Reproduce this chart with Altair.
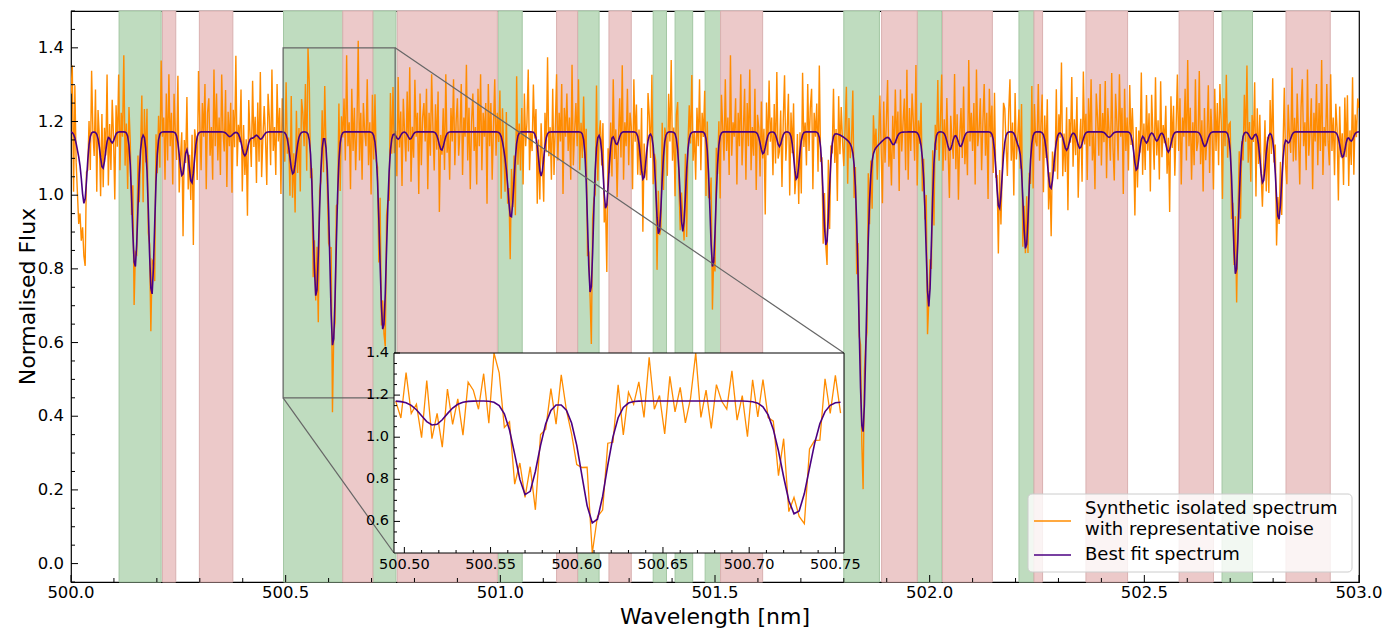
import altair as alt
import numpy as np
import pandas as pd

# ---------------- layout ----------------
W, H = 1288, 571
X0, X1 = 500.0, 503.0
Y0, Y1 = -0.05, 1.5
IX0, IX1 = 500.494, 500.755      # inset / zoom window (data)
IY0, IY1 = 0.45, 1.40
IPX = [323, 773]                 # inset x range in plot pixels
IPY = [542, 342]                 # inset y range in plot pixels
LEG_BOX = [957, 1281, 483, 561]  # legend box in plot pixels (x0, x1, y0, y1)

# ---------------- data ----------------
continuum = 1.172
line_center = [500.018, 500.031, 500.074, 500.096, 500.149, 500.188, 500.259, 500.281, 500.370, 500.405,
               500.424, 500.442, 500.517, 500.571, 500.610, 500.727, 500.762, 500.790, 500.863, 501.012,
               501.025, 501.095, 501.210, 501.246, 501.271, 501.333, 501.369, 501.425, 501.495, 501.612,
               501.650, 501.690, 501.759, 501.844, 501.850, 501.916, 501.985, 501.998, 502.047, 502.072,
               502.162, 502.206, 502.224, 502.282, 502.319, 502.350, 502.418, 502.482, 502.505, 502.529,
               502.556, 502.641, 502.713, 502.750, 502.776, 502.813, 502.836, 502.962, 502.982]
line_depth = [0.05, 0.19, 0.10, 0.03, 0.37, 0.445, 0.12, 0.14, 0.013, 0.065,
              0.015, 0.02, 0.115, 0.45, 0.585, 0.54, 0.02, 0.02, 0.05, 0.05,
              0.23, 0.12, 0.44, 0.21, 0.035, 0.13, 0.28, 0.27, 0.37, 0.06,
              0.04, 0.13, 0.31, 0.76, 0.06, 0.03, 0.04, 0.47, 0.05, 0.04,
              0.21, 0.03, 0.32, 0.155, 0.05, 0.045, 0.015, 0.105, 0.03, 0.025,
              0.055, 0.04, 0.39, 0.02, 0.14, 0.24, 0.03, 0.07, 0.025]
line_sigma = [0.006, 0.006, 0.006, 0.005, 0.0065, 0.0065, 0.006, 0.006, 0.006, 0.007,
              0.005, 0.006, 0.007, 0.0065, 0.007, 0.0078, 0.005, 0.005, 0.006, 0.006,
              0.0065, 0.006, 0.0065, 0.006, 0.005, 0.006, 0.0065, 0.0065, 0.0065, 0.006,
              0.005, 0.006, 0.0065, 0.0085, 0.03, 0.006, 0.006, 0.0065, 0.006, 0.006,
              0.0065, 0.005, 0.0065, 0.007, 0.006, 0.006, 0.006, 0.006, 0.005, 0.005,
              0.006, 0.006, 0.0065, 0.005, 0.006, 0.0065, 0.005, 0.006, 0.005]

# residual noise of the synthetic spectrum, one per 0.003 nm pixel, in units of NOISE_UNIT
NOISE_UNIT = 0.013
noise_units = [
    8, 14, -12, 11, -4, -9, -14, -10, -13, -7, -11, -14, 2, -2, 5, -7, 13, 0, -5, 9, -12, 6, 2, -8, 11,
    -4, 7, -1, 14, -10, 3, -6, 9, 1, -13, 6, -3, 12, -8, 4, -1, 16, -7, 2, -11, 8, 5, -4, 10, -9,
    3, -2, 11, -6, 0, 9, -14, 6, -3, 13, -5, 2, -9, 7, 1, -12, 10, -4, 5, -7, 15, -1, 3, -10, 8,
    -6, 12, -3, 4, -11, 8, 0, -5, 14, -8, 2, 9, -13, 5, -2, 11, -7, 3, -4, 10, -15, 6, 1, -9, 13,
    2, -8, 6, -1, 10, -12, 4, 7, -5, 1, -10, 13, -3, 8, -6, 3, -9, 12, 0, -4, 9, -11, 5, -2, 7,
    -12, 5, -3, 16, -7, 2, -1, 11, -9, 6, -4, 3, -14, 9, 1, -6, 12, -2, 4, -10, 7, -5, 14, -8, 0,
    6, -1, -11, 8, 3, -7, 13, -4, 1, -9, 10, -2, 5, -13, 7, 0, -6, 11, -3, 2, -8, 15, -5, 4, -10,
    9, -6, 2, -12, 7, 4, -3, 10, -8, 18, 12, -5, 3, -11, 6, -1, 9, -14, 4, -2, 8, -7, 11, 0, -4,
    -7, 3, 14, -14, 1, -5, 8, -2, 12, -10, 4, -1, 7, -6, 16, -3, 2, -12, 9, -4, 5, -8, 1, 19, -6,
    4, -10, 6, 0, -3, 11, -7, 2, -13, 8, -5, 10, -1, 3, -9, 14, -4, 6, -2, -11, 7, 1, -6, 12, -3,
    10, -4, 1, -8, 13, -2, 5, -11, 7, 0, -6, 9, -3, 15, -9, 2, -5, 11, -1, 4, -13, 8, -7, 3, 6,
    -2, 9, -12, 4, -5, 12, 1, -8, 6, -3, 10, -14, 3, -1, 8, -6, 13, -4, 0, -10, 5, -2, 11, -7, 2,
    7, -5, 0, 10, -9, 3, -1, 14, -6, 5, -12, 2, 8, -4, 1, -11, 9, -3, 12, -8, 4, -1, 6, -15, 10,
    -3, 6, -10, 1, 11, -5, 4, -2, 9, -13, 7, 0, -7, 12, -4, 3, -9, 10, -1, 5, -12, 14, -6, 2, -8,
    5, -11, 8, -3, 2, 13, -8, 0, -4, 10, -1, 6, -12, 4, -6, 11, 2, -9, 7, -3, 16, -5, 1, -10, 9,
    -9, 1, 12, -6, 4, -2, 10, -13, 5, -1, 8, -4, 3, -10, 14, -7, 0, 6, -3, 11, -8, 2, -5, 9, -1,
    11, -7, 3, -1, -12, 7, 2, -5, 13, -9, 0, 4, -3, 10, -6, 1, -14, 8, -2, 5, -8, 12, -4, 3, -11,
    0, 8, -5, 14, -10, 2, -3, 9, -7, 4, 1, -12, 11, -2, 6, -8, 3, -4, 13, -11, 7, -1, -6, 10, 4,
    -5, 13, -8, 2, 6, -11, 9, -1, -4, 12, -7, 3, 0, -9, 8, -2, 15, -6, 1, -13, 5, 10, -3, -7, 6,
    3, -4, 9, -14, 1, 7, -2, 12, -6, 0, -10, 5, -3, 11, -8, 4, -1, 9, -12, 6, -5, 2, 14, -9, 1,
    -8, 10, -2, 5, -13, 8, 1, -6, 11, -4, 3, -9, 16, -5, 2, -1, 7, -11, 4, -3, 12, -7, 0, 9, -10,
    6, -3, 13, -8, 1, -5, 9, -12, 4, 2, -7, 10, -1, 5, -14, 8, -4, 11, -2, 3, -9, 6, -6, 14, -3,
    -1, 7, -10, 3, 12, -6, 0, 8, -13, 5, -2, 11, -5, 1, 9, -8, 4, -11, 13, -3, 2, -7, 10, -4, 5,
    9, -12, 4, -1, 6, -8, 15, -3, 2, -10, 7, 0, -5, 12, -9, 3, -2, 10, -6, 1, -14, 8, -4, 6, -1,
    -6, 2, 11, -9, 5, -3, 1, 13, -7, 4, -11, 6, -1, 9, -4, -12, 7, 2, -8, 14, -5, 3, -10, 8, 0,
    4, -7, 1, 10, -2, -13, 8, -5, 3, 12, -6, 0, -9, 6, -3, 11, -1, 5, -12, 9, -4, 2, 7, -8, 13,
    -10, 5, -4, 8, 2, -6, 14, -11, 3, -1, 9, -7, 4, -2, 12, -9, 1, 6, -5, 10, -13, 4, -3, 11, -6,
    2, 12, -8, 3, -5, 9, -1, -10, 7, 1, -4, 13, -7, 5, -12, 2, 8, -3, 11, -6, 0, -9, 15, -2, 4,
    -4, 6, -11, 13, -3, 0, 7, -8, 2, 10, -5, 4, -14, 9, -1, 6, -7, 12, -2, 3, -10, 8, -6, 1, 11,
    7, -2, -9, 4, 11, -6, 2, -13, 9, -4, 1, 8, -3, 14, -10, 5, -1, 10, -7, 3, -5, 12, -11, 6, -2,
    -3, 10, -6, 1, 8, -12, 5, -2, 13, -7, 3, -10, 6, 0, -4, 11, -9, 4, -1, 15, -8, 2, -5, 9, -13,
    5, -1, 12, -7, 3, -4, 9, -11, 1, 6, -8, 14, -2, 4, -10, 7, -3, 11, -6, 0, -12, 8, 3, -5, 10,
    -7, 4, -2, 11, -9, 6, 1, -5, 13, -3, -10, 8, 2, -6, 12, -1, 5, -13, 9, -4, 3, -8, 10, -2, 7,
    1, -11, 9, -4, 6, -1, 14, -8, 3, -6, 10, -2, 5, -12, 8, 0, -7, 13, -3, 4, -9, 11, -5, 2, -1,
    8, -5, 3, -13, 10, -2, 6, -9, 1, 12, -4, 7, -11, 3, -1, 9, -6, 15, -3, 5, -10, 2, -7, 11, -4,
    -2, 13, -6, 4, -10, 8, -3, 1, 11, -8, 5, -1, -12, 9, -4, 6, -7, 10, 2, -14, 7, -3, 12, -5, 3,
    6, -9, 2, -3, 12, -7, 4, 10, -11, 1, -5, 8, -2, 14, -6, 3, -9, 5, -1, 11, -13, 6, -4, 9, 0,
    -5, 3, 10, -8, 1, -12, 7, -4, 13, -2, 6, -10, 4, -1, 9, -7, 2, 12, -5, -9, 8, 1, -3, 14, -6,
    3, -6, 8, -1, -11, 5, 11, -3, 2, -8, 13, -5, 0, 7, -12, 4, -2, 10, -7, 6, -4, 15, -9, 1, -3,
    10, -2, -7, 12, -4, 3, -9, 6, 1, -13, 8, -1, 5, -6, 11, -3, 9, -10, 2, -5, 13, -8, 4, -1, 7,
    5,
]

green_start = [500.112, 500.495, 500.703, 500.995, 501.180, 501.356, 501.407, 501.477, 501.800, 501.971, 502.208, 502.681]
green_end = [500.210, 500.633, 500.757, 501.051, 501.230, 501.387, 501.448, 501.513, 501.883, 502.028, 502.243, 502.752]
red_start = [500.213, 500.299, 500.633, 500.760, 501.131, 501.253, 501.513, 501.888, 502.030, 502.243, 502.364, 502.581, 502.830]
red_end = [500.244, 500.377, 500.703, 500.993, 501.180, 501.305, 501.611, 501.971, 502.146, 502.263, 502.461, 502.661, 502.933]

x_major = [500.0, 500.5, 501.0, 501.5, 502.0, 502.5, 503.0]
x_minor = [round(500.0 + 0.1 * i, 1) for i in range(31) if i % 5 != 0]
y_major = [0.0, 0.2, 0.4, 0.6, 0.8, 1.0, 1.2, 1.4]
y_minor = [round(-0.05 + 0.05 * i, 2) for i in range(32) if i % 4 != 1]
ix_major = [500.50, 500.55, 500.60, 500.65, 500.70, 500.75]
ix_minor = [round(500.50 + 0.01 * i, 2) for i in range(26) if i % 5 != 0]
iy_major = [0.6, 0.8, 1.0, 1.2, 1.4]
iy_minor = [0.5, 0.55, 0.65, 0.7, 0.75, 0.85, 0.9, 0.95, 1.05, 1.1, 1.15, 1.25, 1.3, 1.35]

X_TITLE = "Wavelength [nm]"
Y_TITLE = "Normalised Flux"
LAB_OBS = "Synthetic isolated spectrum\nwith representative noise"
LAB_FIT = "Best fit spectrum"
ORANGE = "#ff8c00"
PURPLE = "#4b0082"

# legend rows (text lines and line swatches)
leg_text = ["Synthetic isolated spectrum", "with representative noise", "Best fit spectrum"]
leg_text_y = [498, 519, 544]
leg_swatch_color = [ORANGE, PURPLE]
leg_swatch_y = [510, 544]

# ---------------- build spectra ----------------
wl = np.round(500.0 + 0.003 * np.arange(len(noise_units)), 3)
model = np.full_like(wl, continuum)
for c, d, s in zip(line_center, line_depth, line_sigma):
    model = model - d * np.exp(-0.5 * ((wl - c) / s) ** 2)
obs = model + np.array(noise_units) * NOISE_UNIT

obs_df = pd.DataFrame({"wl": wl, "flux": np.round(obs, 4), "series": LAB_OBS})
fit_df = pd.DataFrame({"wl": wl, "flux": np.round(model, 4), "series": LAB_FIT})
sel = (wl >= IX0) & (wl <= IX1)
obs_in = obs_df[sel]
fit_in = fit_df[sel]

green_df = pd.DataFrame({"s": green_start, "e": green_end})
red_df = pd.DataFrame({"s": red_start, "e": red_end})


def px_to_x(px):
    return X0 + px / W * (X1 - X0)


def py_to_y(py):
    return Y1 - py / H * (Y1 - Y0)


box_df = pd.DataFrame({"x0": [IX0], "x1": [IX1], "y0": [IY0], "y1": [IY1]})
conn_df = pd.DataFrame({
    "xa": [IX1, IX0], "ya": [IY1, IY0],
    "xb": [px_to_x(IPX[1]), px_to_x(IPX[0])], "yb": [py_to_y(IPY[1]), py_to_y(IPY[0])],
})


def labels(vals, fmt):
    return pd.DataFrame({"v": vals, "t": [format(v, fmt) for v in vals]})


# ---------------- scales ----------------
xs = alt.Scale(domain=[X0, X1], nice=False, zero=False)
ys = alt.Scale(domain=[Y0, Y1], nice=False, zero=False)
ixs = alt.Scale(domain=[IX0, IX1], range=IPX, nice=False, zero=False)
iys = alt.Scale(domain=[IY0, IY1], range=IPY, nice=False, zero=False, clamp=True)
cscale = alt.Scale(domain=[LAB_OBS, LAB_FIT], range=[ORANGE, PURPLE])

# ---------------- main panel ----------------
green = alt.Chart(green_df).mark_rect(fill="#bfdcbf", stroke="#a3c7a3", strokeWidth=1).encode(
    x=alt.X("s:Q", scale=xs, axis=None), x2="e:Q", y=alt.value(0), y2=alt.value(H))
red = alt.Chart(red_df).mark_rect(fill="#ecc9c9", stroke="#d9b0b0", strokeWidth=1).encode(
    x=alt.X("s:Q", scale=xs, axis=None), x2="e:Q", y=alt.value(0), y2=alt.value(H))
orange = alt.Chart(obs_df).mark_line(strokeWidth=1.4, clip=True).encode(
    x=alt.X("wl:Q", scale=xs, axis=None),
    y=alt.Y("flux:Q", scale=ys, axis=None),
    color=alt.Color("series:N", scale=cscale, legend=None))
purple = alt.Chart(fit_df).mark_line(strokeWidth=1.6, clip=True).encode(
    x=alt.X("wl:Q", scale=xs, axis=None),
    y=alt.Y("flux:Q", scale=ys, axis=None),
    color=alt.Color("series:N", scale=cscale, legend=None))
zoom_box = alt.Chart(box_df).mark_rect(fillOpacity=0, stroke="#666666", strokeWidth=1.2).encode(
    x=alt.X("x0:Q", scale=xs, axis=None), x2="x1:Q",
    y=alt.Y("y0:Q", scale=ys, axis=None), y2="y1:Q")
connectors = alt.Chart(conn_df).mark_rule(color="#666666", strokeWidth=1.2).encode(
    x=alt.X("xa:Q", scale=xs, axis=None), x2="xb:Q",
    y=alt.Y("ya:Q", scale=ys, axis=None), y2="yb:Q")
xt_major = alt.Chart(pd.DataFrame({"v": x_major})).mark_rule(color="black").encode(
    x=alt.X("v:Q", scale=xs, axis=None), y=alt.value(H), y2=alt.value(H - 7))
xt_minor = alt.Chart(pd.DataFrame({"v": x_minor})).mark_rule(color="black").encode(
    x=alt.X("v:Q", scale=xs, axis=None), y=alt.value(H), y2=alt.value(H - 4))
yt_major = alt.Chart(pd.DataFrame({"v": y_major})).mark_rule(color="black").encode(
    y=alt.Y("v:Q", scale=ys, axis=None), x=alt.value(0), x2=alt.value(7))
yt_minor = alt.Chart(pd.DataFrame({"v": y_minor})).mark_rule(color="black").encode(
    y=alt.Y("v:Q", scale=ys, axis=None), x=alt.value(0), x2=alt.value(4))
x_labels = alt.Chart(labels(x_major, ".1f")).mark_text(fontSize=16.5, baseline="middle", color="black").encode(
    x=alt.X("v:Q", scale=xs, axis=None), y=alt.value(H + 11), text="t:N")
y_labels = alt.Chart(labels(y_major, ".1f")).mark_text(fontSize=16.5, align="right", baseline="middle",
                                                       color="black").encode(
    y=alt.Y("v:Q", scale=ys, axis=None), x=alt.value(-7), text="t:N")
x_title = alt.Chart(pd.DataFrame({"t": [X_TITLE]})).mark_text(fontSize=22, baseline="middle", color="black").encode(
    x=alt.value(W / 2), y=alt.value(H + 35), text="t:N")
y_title = alt.Chart(pd.DataFrame({"t": [Y_TITLE]})).mark_text(fontSize=22, baseline="middle", angle=270,
                                                              color="black").encode(
    x=alt.value(-43), y=alt.value(H / 2), text="t:N")

main = alt.layer(green, red, orange, purple, zoom_box, connectors, xt_major, xt_minor, yt_major, yt_minor,
                 x_labels, y_labels, x_title, y_title)

# ---------------- inset panel ----------------
inset_bg = alt.Chart(box_df).mark_rect(fill="white").encode(
    x=alt.X("x0:Q", scale=ixs, axis=None), x2="x1:Q",
    y=alt.Y("y0:Q", scale=iys, axis=None), y2="y1:Q")
inset_obs = alt.Chart(obs_in).mark_line(color=ORANGE, strokeWidth=1.3).encode(
    x=alt.X("wl:Q", scale=ixs, axis=None), y=alt.Y("flux:Q", scale=iys, axis=None))
inset_fit = alt.Chart(fit_in).mark_line(color=PURPLE, strokeWidth=1.6).encode(
    x=alt.X("wl:Q", scale=ixs, axis=None), y=alt.Y("flux:Q", scale=iys, axis=None))
ixt_major = alt.Chart(pd.DataFrame({"v": ix_major})).mark_rule(color="black").encode(
    x=alt.X("v:Q", scale=ixs, axis=None), y=alt.value(IPY[0]), y2=alt.value(IPY[0] - 6))
ixt_minor = alt.Chart(pd.DataFrame({"v": ix_minor})).mark_rule(color="black").encode(
    x=alt.X("v:Q", scale=ixs, axis=None), y=alt.value(IPY[0]), y2=alt.value(IPY[0] - 3))
iyt_major = alt.Chart(pd.DataFrame({"v": iy_major})).mark_rule(color="black").encode(
    y=alt.Y("v:Q", scale=iys, axis=None), x=alt.value(IPX[0]), x2=alt.value(IPX[0] + 6))
iyt_minor = alt.Chart(pd.DataFrame({"v": iy_minor})).mark_rule(color="black").encode(
    y=alt.Y("v:Q", scale=iys, axis=None), x=alt.value(IPX[0]), x2=alt.value(IPX[0] + 3))
inset_frame = alt.Chart(box_df).mark_rect(fillOpacity=0, stroke="black", strokeWidth=1).encode(
    x=alt.X("x0:Q", scale=ixs, axis=None), x2="x1:Q",
    y=alt.Y("y0:Q", scale=iys, axis=None), y2="y1:Q")
ix_labels = alt.Chart(labels(ix_major, ".2f")).mark_text(fontSize=14.5, baseline="middle", color="black").encode(
    x=alt.X("v:Q", scale=ixs, axis=None), y=alt.value(IPY[0] + 12), text="t:N")
iy_labels = alt.Chart(labels(iy_major, ".1f")).mark_text(fontSize=14.5, align="right", baseline="middle",
                                                         color="black").encode(
    y=alt.Y("v:Q", scale=iys, axis=None), x=alt.value(IPX[0] - 5), text="t:N")

# ---------------- legend ----------------
leg_box = alt.Chart(pd.DataFrame({"k": [0]})).mark_rect(
    fill="white", fillOpacity=0.8, stroke="#cccccc", strokeWidth=1, cornerRadius=4).encode(
    x=alt.value(LEG_BOX[0]), x2=alt.value(LEG_BOX[1]), y=alt.value(LEG_BOX[2]), y2=alt.value(LEG_BOX[3]))
leg_swatches = [
    alt.Chart(pd.DataFrame({"k": [i]})).mark_rule(color=c, strokeWidth=1.6).encode(
        x=alt.value(LEG_BOX[0] + 6), x2=alt.value(LEG_BOX[0] + 43), y=alt.value(yv))
    for i, (c, yv) in enumerate(zip(leg_swatch_color, leg_swatch_y))
]
leg_labels = alt.Chart(pd.DataFrame({"t": leg_text, "yy": leg_text_y})).mark_text(
    fontSize=18, align="left", baseline="middle", color="black").encode(
    x=alt.value(LEG_BOX[0] + 57), y=alt.Y("yy:Q", scale=None, axis=None), text="t:N")

inset = alt.layer(inset_bg, inset_obs, inset_fit, ixt_major, ixt_minor, iyt_major, iyt_minor, inset_frame,
                  ix_labels, iy_labels, leg_box, *leg_swatches, leg_labels)

chart = (
    alt.layer(main, inset)
    .resolve_scale(x="independent", y="independent")
    .properties(width=W, height=H, autosize=alt.AutoSizeParams(type="none"),
                padding={"left": 71, "top": 11, "right": 1395 - 71 - W, "bottom": 630 - 11 - H})
    .configure(font="DejaVu Sans")
    .configure_view(stroke="black", strokeWidth=1.2)
)

chart.save("out.html", embed_options={"renderer": "svg", "actions": False})
